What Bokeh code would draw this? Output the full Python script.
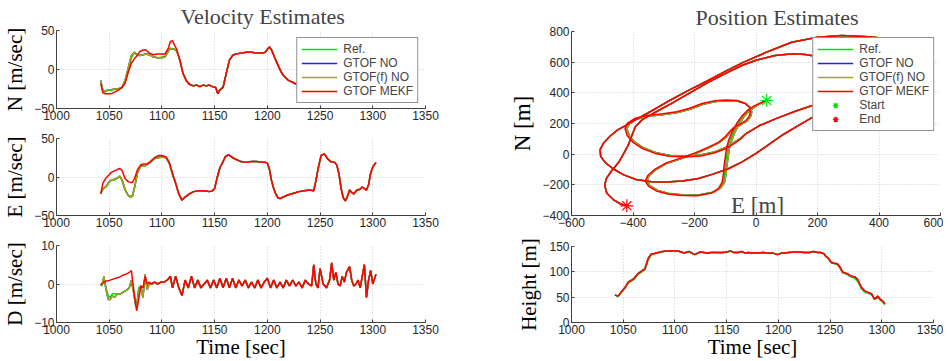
from bokeh.plotting import figure
from bokeh.models import FixedTicker, Legend, LegendItem, Label
from bokeh.layouts import row, column
from bokeh.embed import file_html
from bokeh.resources import INLINE

# ---------------- ticks ----------------
TIME_TICKS = [1000, 1050, 1100, 1150, 1200, 1250, 1300, 1350]
VNE_TICKS = [-50, 0, 50]
VD_TICKS = [-10, 0, 10]
E_TICKS = [-600, -400, -200, 0, 200, 400, 600]
N_TICKS = [-400, -200, 0, 200, 400, 600, 800]
H_TICKS = [0, 50, 100, 150]

SERIES = ["Ref.", "GTOF NO", "GTOF(f) NO", "GTOF MEKF"]

# ---------------- North velocity ----------------
# (t, ref, gtof / gtof(f), mekf) where the estimates differ
vn_head = [
    (1042, -15, -14, -18), (1044, -28, -27, -30), (1046, -29, -28, -31), (1049, -26, -26, -31),
    (1052, -27, -26, -31), (1055, -25, -25, -29), (1058, -26, -25, -27), (1062, -24, -23, -23),
    (1065, -16, -14, -18), (1068, -2, 2, -4), (1071, 15, 18, 8), (1074, 22, 22, 14),
    (1076, 20, 19, 17), (1079, 18, 18, 23), (1082, 19, 19, 25), (1085, 20, 20, 25),
    (1088, 19, 19, 21), (1092, 16, 16, 19), (1096, 15, 15, 20), (1100, 16, 15, 20),
    (1103, 17, 16, 20), (1106, 24, 23, 27), (1108, 27, 27, 36), (1110, 27, 26, 37),
    (1112, 25, 26, 31), (1114, 24, 24, 26), (1117, 12, 12, 12), (1120, -5, -5, -5),
]
# (t, value) where all estimates coincide
vn_tail = [
    (1123, -14), (1126, -19), (1130, -21), (1133, -20), (1136, -22), (1139, -20), (1142, -21),
    (1145, -20), (1148, -22), (1151, -23), (1153, -31), (1155, -26), (1158, -23), (1161, -5),
    (1164, 12), (1167, 18), (1170, 20), (1175, 21), (1180, 22), (1185, 22), (1190, 21),
    (1195, 21), (1198, 22), (1200, 26), (1202, 29), (1204, 25), (1207, 15), (1210, 6),
    (1213, -3), (1216, -9), (1220, -14), (1225, -17), (1230, -21), (1235, -22), (1240, -20),
    (1245, -12), (1250, 12), (1255, 22), (1260, 20), (1265, 10), (1270, -5), (1275, -18),
    (1280, -22), (1285, -22), (1290, -20), (1295, -15), (1300, -5), (1303, 0),
]

# ---------------- East velocity ----------------
ve_head = [
    (1042, -22, -21, -22), (1044, -15, -16, -8), (1047, -13, -12, -1), (1050, -7, -6, 3),
    (1052, -4, -4, 6), (1055, -4, -3, 8), (1058, -1, -1, 10), (1060, 1, 1, 11),
    (1062, -4, -3, 9), (1065, -17, -16, -2), (1068, -24, -24, -6), (1070, -25, -26, -7),
    (1072, -24, -25, -7), (1074, -13, -14, -2), (1077, 8, 6, 10), (1080, 15, 14, 16),
    (1083, 14, 14, 17), (1086, 16, 16, 17), (1089, 20, 19, 20), (1093, 25, 24, 25),
    (1097, 27, 25, 28), (1100, 27, 26, 28), (1104, 25, 25, 26), (1107, 17, 18, 19),
    (1110, 3, 4, 5),
]
ve_tail = [
    (1113, -8), (1116, -22), (1119, -30), (1122, -26), (1126, -22), (1130, -19), (1135, -18),
    (1140, -18), (1145, -19), (1148, -18), (1150, -15), (1152, -3), (1155, 12), (1158, 20),
    (1160, 26), (1163, 29), (1166, 26), (1170, 23), (1175, 20), (1180, 19), (1185, 20),
    (1190, 20), (1195, 19), (1198, 19), (1200, 18), (1202, 10), (1204, -5), (1206, -15),
    (1208, -22), (1210, -27), (1212, -28), (1215, -26), (1220, -23), (1225, -21), (1230, -19),
    (1235, -18), (1240, -17), (1244, -18), (1246, -5), (1248, 10), (1251, 28), (1254, 30),
    (1257, 24), (1260, 20), (1264, 19), (1266, 15), (1268, 3), (1270, -15), (1272, -27),
    (1274, -31), (1276, -25), (1278, -17), (1280, -20), (1282, -22), (1285, -17), (1288, -16),
    (1290, -13), (1292, -15), (1294, -17), (1296, -10), (1298, 5), (1300, 13), (1303, 19),
]

# ---------------- Down velocity ----------------
vd_head = [
    (1042, 0, 0, 0), (1043, -0.5, -0.5, 0), (1045, 1.5, 2, 0.5), (1047, -1, -1.5, 0.8),
    (1049, -3, -4, 0.8), (1051, -3.5, -4, 1), (1053, -2.5, -3, 1.2), (1055, -2.5, -3.5, 1.4),
    (1058, -2.5, -2.5, 1.6), (1061, -2.5, -2.5, 2), (1064, -2, -2, 2.4), (1067, -1.5, -1.5, 2.7),
    (1069, -1, -1, 3), (1071, 0.5, 1, 3.5), (1073, -1.5, -2, -1), (1075, -5, -5.5, -5),
    (1076, -5.5, -6, -7), (1078, -1, -1.5, -4), (1080, -0.5, -1, -0.5), (1082, -3, -3.5, -1),
    (1084, 2, 2.5, 2), (1086, -1, -1.5, 0), (1088, 0, 0, 0.5), (1090, 0, 0, 0),
]
vd_tail = [
    (1093, 0.5), (1096, 0), (1099, 0.5), (1102, 0.5), (1105, 1), (1108, 2), (1110, -1),
    (1113, 2), (1116, -1), (1119, -3), (1122, 1), (1125, -1), (1128, 2), (1131, -1),
    (1134, 1), (1137, -1), (1140, 0), (1143, 1), (1146, -1), (1149, 1), (1152, -1),
    (1155, 1.5), (1158, -1), (1161, 1.5), (1164, -1), (1167, 1.5), (1170, -1), (1173, 1),
    (1176, -0.5), (1179, 1), (1182, -1), (1185, 0.5), (1188, -1), (1191, 1), (1194, -1),
    (1197, 0.5), (1200, 1.5), (1203, -1), (1206, 1), (1209, -1), (1212, 0.5), (1215, -1),
    (1218, 1), (1221, -0.5), (1224, 1), (1227, -0.5), (1230, 0.5), (1233, -1), (1236, 1),
    (1239, 0), (1242, -0.5), (1244, 5), (1246, 0), (1248, -1), (1250, 4), (1253, 0),
    (1256, -1), (1259, 1), (1261, 5.5), (1263, 1), (1265, 3), (1267, 0), (1269, -0.5),
    (1271, 2), (1273, 0.5), (1275, 3), (1278, 4.5), (1280, 1), (1282, -0.5), (1284, 0),
    (1286, 1), (1288, -1), (1290, 2), (1292, 5), (1294, -3.5), (1296, 1), (1298, 3.5),
    (1300, 0), (1303, 2.5),
]

# ---------------- Height ----------------
# (t, ref, estimates)
height = [
    (1042, 55, 54), (1045, 51, 52), (1048, 58, 60), (1052, 68, 70), (1055, 78, 80),
    (1060, 84, 86), (1064, 94, 96), (1068, 100, 102), (1071, 104, 106), (1074, 122, 126),
    (1077, 133, 135), (1080, 135, 136), (1084, 138, 138), (1088, 140, 140), (1093, 141, 141),
    (1098, 141, 141), (1103, 141, 141), (1106, 139, 139), (1109, 137, 137), (1112, 139, 139),
    (1114, 140, 140), (1117, 136, 136), (1119, 134, 134), (1122, 137, 137), (1125, 139, 139),
    (1128, 138, 138), (1131, 137, 137), (1135, 138, 138), (1140, 138, 138), (1145, 137, 138),
    (1150, 139, 139), (1154, 141, 141), (1157, 138, 138), (1161, 138, 138), (1165, 140, 140),
    (1168, 137, 137), (1171, 138, 138), (1175, 137, 137), (1180, 137, 137), (1185, 138, 138),
    (1190, 137, 137), (1195, 137, 137), (1199, 134, 134), (1203, 137, 137), (1206, 137, 137),
    (1210, 138, 138), (1215, 139, 139), (1220, 139, 139), (1225, 138, 138), (1230, 138, 138),
    (1234, 140, 140), (1238, 138, 138), (1241, 138, 138), (1244, 136, 136), (1246, 131, 130),
    (1248, 127, 128), (1251, 118, 119), (1254, 116, 117), (1257, 115, 116), (1260, 106, 108),
    (1262, 98, 100), (1265, 96, 97), (1267, 94, 96), (1270, 90, 92), (1274, 87, 90),
    (1277, 80, 84), (1280, 67, 70), (1283, 61, 63), (1286, 58, 60), (1290, 55, 57),
    (1293, 45, 46), (1296, 50, 52), (1299, 43, 45), (1301, 40, 42), (1303, 35, 37),
]

# ---------------- Position (E, N) ----------------
pos_ref_start = [
    (35, 350), (15, 332), (-5, 310), (-25, 282), (-42, 245), (-58, 200), (-72, 150), (-84, 95),
    (-92, 40), (-96, -20), (-100, -80), (-102, -130), (-106, -180), (-118, -220), (-140, -248),
    (-187, -266), (-240, -265), (-285, -255), (-320, -236), (-345, -205), (-355, -175),
    (-348, -140), (-325, -100), (-290, -60), (-245, -30), (-195, 5), (-150, 45), (-120, 75),
    (-98, 110), (-85, 140), (-72, 168), (-50, 192), (-30, 215), (-18, 245), (-14, 275),
    (-18, 303), (-32, 328), (-58, 345), (-95, 349), (-132, 343), (-172, 325), (-215, 293),
    (-255, 271), (-300, 259), (-350, 248), (-390, 228), (-412, 200), (-420, 165), (-412, 120),
    (-395, 80), (-365, 40), (-325, 10), (-280, -8), (-230, -13), (-180, -6), (-135, 15),
    (-100, 42), (-72, 75), (-50, 105), (-35, 130),
]
pos_gtof_start = [
    (35, 350), (16, 331), (-4, 308), (-23, 279), (-40, 242), (-55, 196), (-68, 146), (-79, 90),
    (-87, 35), (-91, -25), (-95, -85), (-98, -135), (-102, -183), (-115, -222), (-138, -249),
    (-186, -267), (-240, -266), (-285, -256), (-320, -237), (-345, -206), (-355, -175),
    (-348, -140), (-325, -100), (-290, -60), (-245, -30), (-195, 5), (-150, 45), (-120, 75),
    (-98, 110), (-85, 140), (-72, 168), (-50, 192), (-30, 215), (-18, 245), (-14, 275),
    (-18, 303), (-32, 328), (-58, 345), (-95, 349), (-132, 343), (-172, 325), (-215, 293),
    (-255, 271), (-300, 259), (-350, 248), (-390, 228), (-412, 200), (-420, 165), (-412, 120),
    (-395, 80), (-365, 40), (-325, 10), (-280, -8), (-230, -13), (-180, -6), (-135, 15),
    (-100, 42), (-72, 75), (-50, 105), (-35, 130),
]
pos_mekf_start = [
    (35, 350), (14, 334), (-7, 313), (-28, 285), (-46, 248), (-62, 203), (-76, 152), (-88, 96),
    (-96, 40), (-100, -20), (-104, -80), (-106, -130), (-110, -182), (-122, -224), (-144, -253),
    (-190, -271), (-242, -270), (-287, -260), (-324, -240), (-350, -208), (-360, -176),
    (-352, -139), (-328, -98), (-292, -57), (-246, -26), (-196, 9), (-151, 49), (-121, 79),
    (-100, 114), (-87, 144), (-74, 172), (-52, 196), (-33, 219), (-22, 248), (-18, 277),
    (-22, 306), (-36, 332), (-62, 350), (-97, 354), (-134, 348), (-175, 330), (-218, 298),
    (-258, 276), (-303, 264), (-354, 253), (-395, 232), (-418, 203), (-426, 165), (-418, 118),
    (-400, 77), (-369, 36), (-328, 5), (-282, -14), (-231, -19), (-180, -12), (-134, 9),
    (-98, 37), (-70, 70), (-48, 101), (-35, 130),
]
pos_common = [
    (10, 185), (63, 230), (130, 282), (203, 330), (290, 385), (380, 440), (460, 500),
    (520, 570), (535, 640), (510, 710), (450, 750), (366, 765), (279, 774), (200, 762),
    (116, 730), (40, 670), (-40, 600), (-100, 540), (-154, 482), (-221, 414), (-290, 340),
    (-350, 270), (-395, 220), (-420, 190), (-450, 158), (-473, 120), (-495, 75), (-507, 30),
    (-505, -15), (-490, -55), (-465, -95), (-430, -135), (-390, -165), (-340, -180),
    (-290, -182), (-240, -175), (-190, -160), (-140, -130), (-90, -95), (-45, -50), (0, 5),
    (40, 60), (90, 130), (140, 190), (203, 263), (300, 330), (400, 410), (460, 480),
    (470, 550), (420, 600), (340, 625), (260, 630), (203, 635), (160, 650), (120, 655),
    (62, 643), (0, 612), (-46, 578), (-100, 525), (-154, 470), (-215, 400), (-280, 325),
    (-335, 265), (-370, 225), (-392, 180), (-404, 120), (-415, 60), (-430, 5), (-447, -55),
    (-470, -110), (-487, -160), (-492, -205), (-485, -255), (-462, -300), (-440, -325),
    (-420, -337),
]
start_pt = (35, 350)
end_pt = (-420, -337)

# ---------------- styling ----------------
C_REF, C_NO, C_FNO, C_MEKF = "#00e400", "#1f1fff", "#a8a800", "#ff0000"
SERIF = "Liberation Serif"
SANS = "Liberation Sans"
AXC = "#404040"


def make_fig(fw, fh, xr, yr, xt, yt, bl, br, bt, bb, title=None, title_offset=0):
    kw = {}
    if title:
        kw["title"] = title
    p = figure(frame_width=fw, frame_height=fh, x_range=xr, y_range=yr, output_backend="svg",
               toolbar_location=None, min_border_left=bl, min_border_right=br,
               min_border_top=bt, min_border_bottom=bb, **kw)
    p.outline_line_color = None
    p.xaxis.ticker = FixedTicker(ticks=xt)
    p.yaxis.ticker = FixedTicker(ticks=yt)
    for ax in list(p.xaxis) + list(p.yaxis):
        ax.axis_line_color = AXC
        ax.major_tick_line_color = AXC
        ax.major_tick_in = 3
        ax.major_tick_out = 0
        ax.minor_tick_line_color = None
        ax.major_label_text_font = SANS
        ax.major_label_text_font_size = "12px"
        ax.major_label_text_color = "#262626"
        ax.major_label_standoff = 2
        ax.axis_label_text_font = SERIF
        ax.axis_label_text_font_size = "21px"
        ax.axis_label_text_font_style = "normal"
        ax.axis_label_text_color = "black"
        ax.axis_label_standoff = 4
    p.grid.grid_line_color = "#cccccc"
    p.grid.grid_line_dash = "1 2"
    if title:
        p.title.text_font = SERIF
        p.title.text_font_size = "22px"
        p.title.text_font_style = "normal"
        p.title.align = "left"
        p.title.offset = title_offset
        p.title.standoff = 3
    return p


def split(rows):
    return [list(c) for c in zip(*rows)]


def draw_vel(p, head, tail):
    th, r_ref, r_est, r_mekf = split(head)
    tt, vt = split(tail)
    t = th + tt
    rs = []
    rs.append(p.line(t, r_ref + vt, line_color=C_REF, line_width=1.5))
    rs.append(p.line(t, r_est + vt, line_color=C_NO, line_width=1.5))
    rs.append(p.line(t, r_est + vt, line_color=C_FNO, line_width=1.5))
    rs.append(p.line(t, r_mekf + vt, line_color=C_MEKF, line_width=1.5))
    return rs


def style_legend(lg, margin):
    lg.location = "top_right"
    lg.label_text_font = SANS
    lg.label_text_font_size = "12px"
    lg.glyph_width = 36
    lg.glyph_height = 14
    lg.label_height = 14
    lg.label_standoff = 6
    lg.padding = 4
    lg.spacing = 0
    lg.margin = margin
    lg.border_line_color = "#262626"
    lg.border_line_width = 1
    lg.background_fill_alpha = 1.0


# ---------------- left column ----------------
p1 = make_fig(369, 78, (1000, 1350), (-50, 50), TIME_TICKS, VNE_TICKS, 55, 56, 30, 18,
              title="Velocity Estimates", title_offset=124)
p1.yaxis.axis_label = "N [m/sec]"
r1 = draw_vel(p1, vn_head, vn_tail)
lg1 = Legend(items=[LegendItem(label=s, renderers=[r]) for s, r in zip(SERIES, r1)])
style_legend(lg1, 7)
p1.add_layout(lg1)

p2 = make_fig(369, 77, (1000, 1350), (-50, 50), TIME_TICKS, VNE_TICKS, 55, 56, 12, 18)
p2.yaxis.axis_label = "E [m/sec]"
draw_vel(p2, ve_head, ve_tail)

p3 = make_fig(369, 77, (1000, 1350), (-10, 10), TIME_TICKS, VD_TICKS, 55, 56, 12, 39)
p3.yaxis.axis_label = "D [m/sec]"
p3.xaxis.axis_label = "Time [sec]"
p3.xaxis.axis_label_standoff = -2
draw_vel(p3, vd_head, vd_tail)

# ---------------- right column ----------------
p4 = make_fig(369, 184, (-600, 600), (-400, 800), E_TICKS, N_TICKS, 83, 10, 31, 18,
              title="Position Estimates", title_offset=124)
p4.yaxis.axis_label = "N [m]"
p4.yaxis.axis_label_text_font_size = "23px"
e_ref, n_ref = split(pos_ref_start + pos_common)
e_est, n_est = split(pos_gtof_start + pos_common)
e_mk, n_mk = split(pos_mekf_start + pos_common)
q1 = p4.line(e_ref, n_ref, line_color=C_REF, line_width=1.5)
q2 = p4.line(e_est, n_est, line_color=C_NO, line_width=1.5)
q3 = p4.line(e_est, n_est, line_color=C_FNO, line_width=1.5)
q4 = p4.line(e_mk, n_mk, line_color=C_MEKF, line_width=1.5)
q5 = p4.scatter([start_pt[0]], [start_pt[1]], marker="asterisk", size=13,
                line_color=C_REF, line_width=1.2)
q6 = p4.scatter([end_pt[0]], [end_pt[1]], marker="asterisk", size=13,
                line_color=C_MEKF, line_width=1.2)
lg4 = Legend(items=[LegendItem(label=s, renderers=[r]) for s, r in
                    zip(SERIES + ["Start", "End"], [q1, q2, q3, q4, q5, q6])])
style_legend(lg4, 6)
p4.add_layout(lg4)
p4.add_layout(Label(x=5, y=-335, text="E [m]", text_font=SERIF, text_font_size="23px",
                    text_align="center", text_baseline="middle"))

p5 = make_fig(362, 76, (1000, 1350), (0, 150), TIME_TICKS, H_TICKS, 90, 10, 13, 39)
p5.yaxis.axis_label = "Height [m]"
p5.yaxis.axis_label_standoff = 5
p5.xaxis.axis_label = "Time [sec]"
p5.xaxis.axis_label_standoff = -2
th, h_ref, h_est = split(height)
p5.line(th, h_ref, line_color=C_REF, line_width=1.5)
p5.line(th, h_est, line_color=C_NO, line_width=1.5)
p5.line(th, h_est, line_color=C_FNO, line_width=1.5)
p5.line(th, h_est, line_color=C_MEKF, line_width=1.5)

layout = row(column(p1, p2, p3), column(p4, p5))

open("out.html", "w").write(file_html(layout, INLINE))
